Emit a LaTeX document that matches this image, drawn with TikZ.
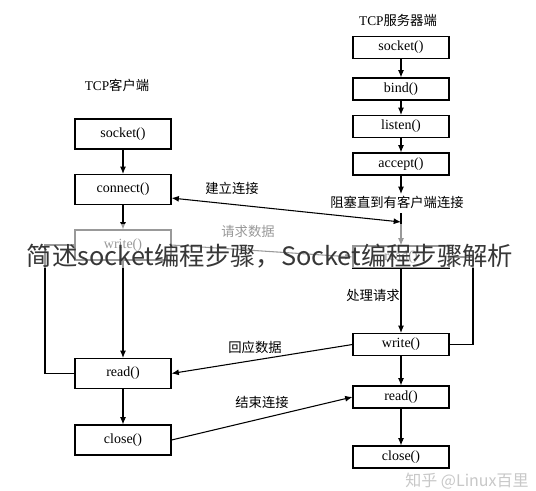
\documentclass[tikz,border=0pt]{standalone}
\usepackage{fontspec}
\setmainfont{Liberation Serif}
\newfontfamily\cjk{Noto Sans CJK SC}
\usetikzlibrary{arrows.meta}
\definecolor{wmark}{RGB}{55,55,55}
\definecolor{wmlight}{RGB}{200,200,200}
\begin{document}
\begin{tikzpicture}[x=0.75pt,y=-0.75pt,
  line width=0.8pt,
  >={Latex[length=5.5pt,width=4.5pt]},
  cbox/.style={draw,inner sep=0pt,minimum width=72pt,minimum height=22.5pt,font=\fontsize{10.5}{12}\selectfont},
  sbox/.style={draw,inner sep=0pt,minimum width=72pt,minimum height=16.5pt,font=\fontsize{10.5}{12}\selectfont},
  lbl/.style={inner sep=0pt,font=\fontsize{10}{12}\selectfont\cjk},
  ttl/.style={inner sep=0pt,font=\fontsize{10}{12}\selectfont}]
\useasboundingbox (0,0) rectangle (536,490);
\fill[white] (0,0) rectangle (536,490);
% titles
\node[ttl] (tc) at (117,85) {TCP{\cjk 客户端}};
\node[ttl] (ts) at (398,20) {TCP{\cjk 服务器端}};
% client
\node[cbox] (csock) at (123,134) {socket()};
\node[cbox] (cconn) at (123,189.5) {connect()};
\node[cbox] (cwrite) at (123,245) {write()};
\node[cbox] (cread) at (123,373.5) {read()};
\node[cbox] (cclose) at (123,440) {close()};
% server
\node[sbox] (ssock) at (401,47.5) {socket()};
\node[sbox] (sbind) at (401,89) {bind()};
\node[sbox] (slisten) at (401,126.5) {listen()};
\node[sbox] (saccept) at (401,164) {accept()};
\node[sbox] (sread1) at (401,257) {read()};
\node[sbox] (swrite) at (401,344.5) {write()};
\node[sbox] (sread2) at (401,397) {read()};
\node[sbox] (sclose) at (401,457) {close()};
% labels
\node[lbl] (l1) at (232,188) {建立连接};
\node[lbl] (l2) at (248,231) {请求数据};
\node[lbl] (l3) at (397,202) {阻塞直到有客户端连接};
\node[lbl] (l4) at (373,295) {处理请求};
\node[lbl] (l5) at (255,347) {回应数据};
\node[lbl] (l6) at (262,402) {结束连接};
% coordinates
\coordinate (a1) at (401,194);
\coordinate (a2) at (401,213);
\coordinate (j1) at (401,222);
\coordinate (lp1) at (45,373.5);
\coordinate (lp2) at (45,245);
\coordinate (rp1) at (473,344.5);
\coordinate (rp2) at (473,257);
% client arrows
\draw[->] (csock) -- (cconn);
\draw[->] (cconn) -- (cwrite);
\draw[->] (cwrite) -- (cread);
\draw[->] (cread) -- (cclose);
\draw (cread.west) -- (lp1) -- (lp2) -- (cwrite.west);
% server arrows
\draw[->] (ssock) -- (sbind);
\draw[->] (sbind) -- (slisten);
\draw[->] (slisten) -- (saccept);
\draw[->] (saccept) -- (a1);
\draw[->] (a2) -- (sread1);
\draw[->] (sread1) -- (swrite);
\draw[->] (swrite) -- (sread2);
\draw[->] (sread2) -- (sclose);
\draw (swrite.east) -- (rp1) -- (rp2) -- (sread1.east);
% cross arrows
\draw[<->] ([yshift=-6.4pt]cconn.east) -- (j1);
\draw[->] (cwrite.east) -- (sread1.west);
\draw[->] (swrite.west) -- (cread.east);
\draw[->] (cclose.east) -- (sread2.west);
% watermark band
\fill[white,opacity=0.6] (10,224) rectangle (526,268);
\node[inner sep=0pt,text=wmark,font=\fontsize{19}{22}\selectfont\cjk] (wm) at (270,256) {简述socket编程步骤，Socket编程步骤解析};
\node[inner sep=0pt,text=wmlight,font=\fontsize{12}{14}\selectfont\cjk] (wm2) at (467,481) {知乎 @Linux百里};
\end{tikzpicture}
\end{document}
